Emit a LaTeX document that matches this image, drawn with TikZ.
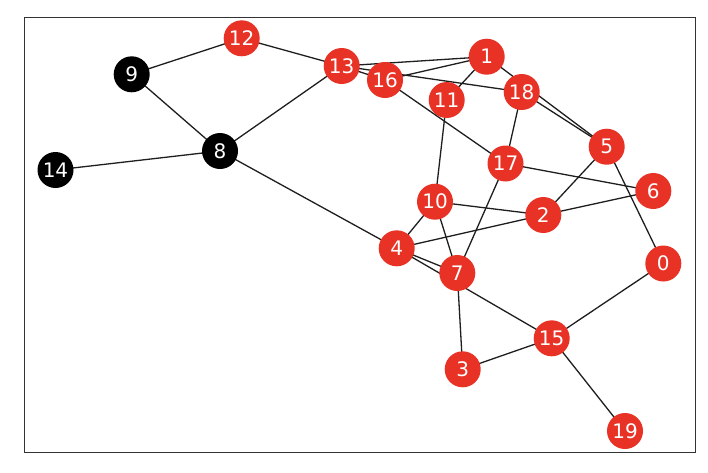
\documentclass[tikz,border=0pt]{standalone}
\usepackage{fontspec}
\setmainfont{DejaVu Sans}
\usetikzlibrary{backgrounds}
\definecolor{nred}{RGB}{232,50,38}
\definecolor{edgec}{RGB}{30,30,30}
\tikzset{
  rn/.style={circle, fill=nred, minimum size=36pt, inner sep=0pt, text=white, font=\fontsize{20}{20}\selectfont},
  bn/.style={rn, fill=black},
  ed/.style={draw=edgec, line width=1.3pt},
}
\begin{document}
\begin{tikzpicture}[x=1pt,y=-1pt]
\useasboundingbox (0,0) rectangle (708,472);
\draw[line width=1pt, draw=black!80] (24,17) rectangle (695,452);
\node[bn] (n9) at (131.7,74.3) {9};
\node[bn] (n8) at (220,151) {8};
\node[bn] (n14) at (55.5,170) {14};
\node[rn] (n12) at (241.7,38.3) {12};
\node[rn] (n13) at (341.7,66) {13};
\node[rn] (n16) at (385,80) {16};
\node[rn] (n1) at (486.7,56.7) {1};
\node[rn] (n11) at (446.7,100) {11};
\node[rn] (n18) at (521.7,92) {18};
\node[rn] (n5) at (606.7,146.7) {5};
\node[rn] (n17) at (505.5,163.5) {17};
\node[rn] (n6) at (653.3,191) {6};
\node[rn] (n10) at (435,201.7) {10};
\node[rn] (n2) at (543.3,215) {2};
\node[rn] (n4) at (396.7,248.3) {4};
\node[rn] (n7) at (457.3,273) {7};
\node[rn] (n0) at (663.3,263.5) {0};
\node[rn] (n15) at (551.7,338.3) {15};
\node[rn] (n3) at (462.7,369.3) {3};
\node[rn] (n19) at (625,431) {19};
\begin{scope}[on background layer]
\foreach \a/\b in {9/12, 9/8, 12/13, 8/14, 8/13, 8/4, 13/1, 13/16, 13/18, 16/1, 16/17, 1/11, 1/5, 18/5, 18/17, 11/10, 17/6, 17/7, 5/2, 5/0, 10/2, 10/4, 10/7, 2/6, 2/4, 4/7, 4/15, 7/3, 3/15, 15/0, 15/19}
  \draw[ed] (n\a.center) -- (n\b.center);
\end{scope}
\end{tikzpicture}
\end{document}
